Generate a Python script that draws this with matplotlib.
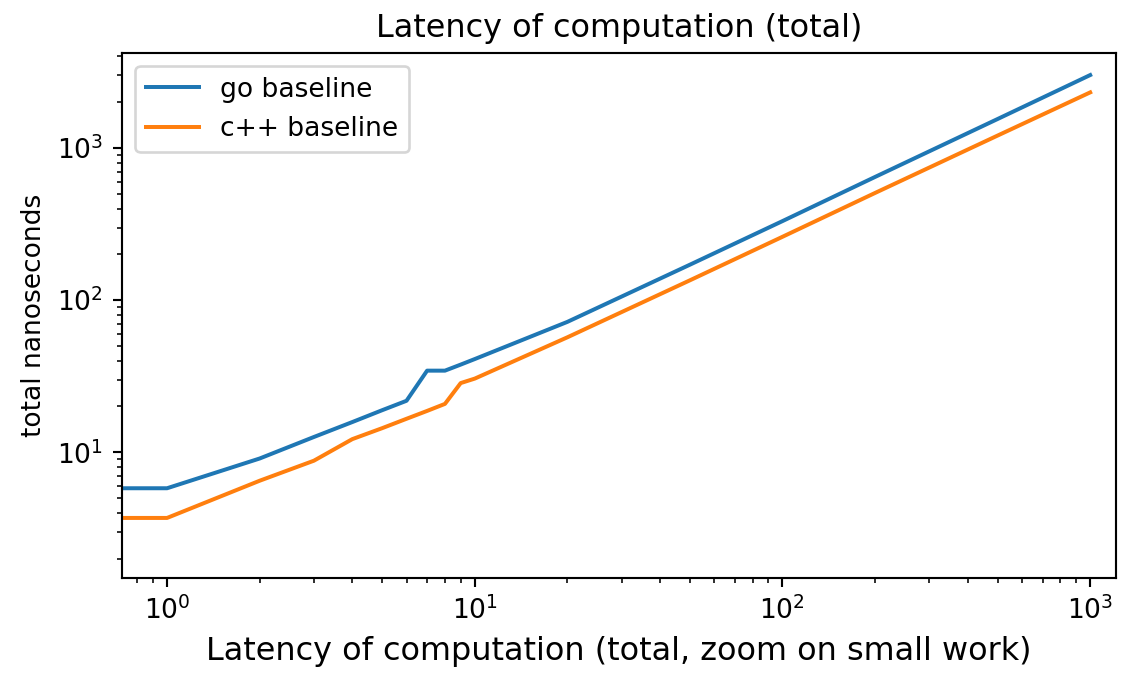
import matplotlib
matplotlib.use('Agg')
import matplotlib.pyplot as plt

# work size (x) and total latency in ns
work = [0, 1, 2, 3, 4, 5, 6, 7, 8, 9, 10, 20, 50, 100, 200, 500, 1000]
go_ns = [5.8, 5.8, 9.1, 12.6, 15.8, 18.9, 21.8, 34.4, 34.4, 37.7, 41, 72, 171, 331, 646, 1552, 3020]
cpp_ns = [3.7, 3.7, 6.5, 8.8, 12.2, 14.4, 16.6, 18.7, 20.8, 28.5, 30.5, 57, 135, 261, 507, 1208, 2323]

DPI = 191
fig = plt.figure(figsize=(1130 / DPI, 674 / DPI), dpi=DPI)
ax = fig.add_axes([0.108, 0.1424, 0.8796, 0.7794])

ax.plot(work, go_ns, label='go baseline')
ax.plot(work, cpp_ns, label='c++ baseline')
ax.set_xscale('log')
ax.set_yscale('log')
ax.set_xlim(0.714, 1213)
ax.set_ylim(1.49, 4236)

ax.set_title('Latency of computation (total)', fontsize=12)
ax.set_xlabel('Latency of computation (total, zoom on small work)', fontsize=12)
ax.set_ylabel('total nanoseconds')
ax.legend(loc='upper left')

fig.savefig('out.png', dpi=DPI)
